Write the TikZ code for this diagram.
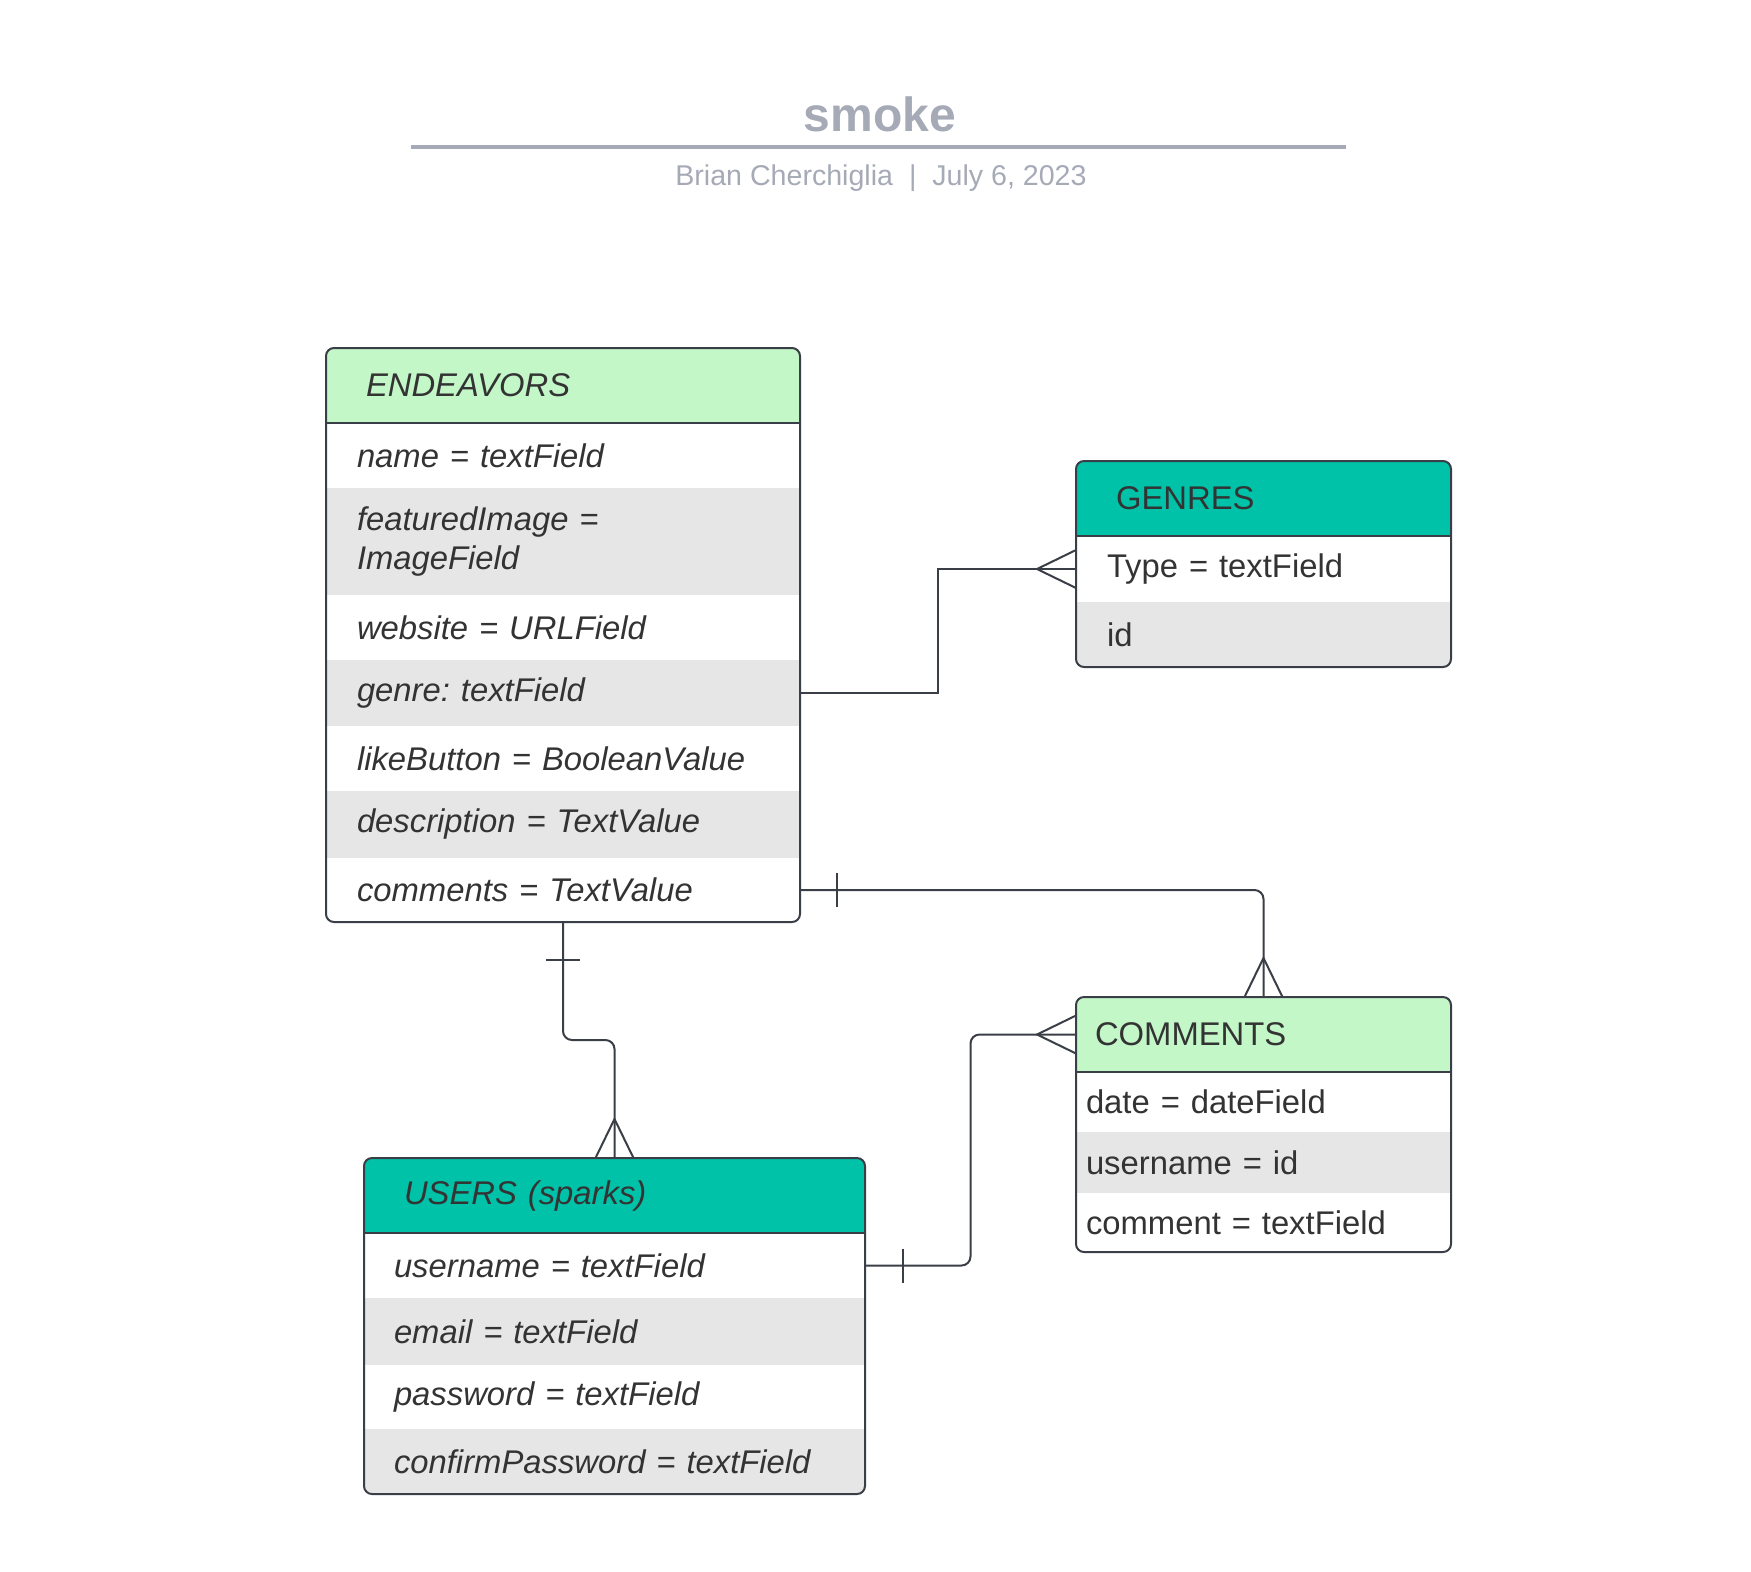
\documentclass[tikz,border=0pt]{standalone}
\usepackage{fontspec}
\setmainfont{Liberation Sans}
\usetikzlibrary{positioning, calc}
\definecolor{zgreen}{RGB}{195, 247, 200}
\definecolor{zteal}{RGB}{0, 194, 168}
\definecolor{zrow}{RGB}{230, 230, 230}
\definecolor{ztext}{RGB}{51, 51, 51}
\definecolor{zline}{RGB}{58, 62, 70}
\definecolor{ztitle}{RGB}{165, 170, 182}
\newcommand{\rowfont}{\fontsize{16.4pt}{19.6pt}\selectfont}
\frenchspacing

\begin{document}
\begin{tikzpicture}[
  x=0.5pt, y=-0.5pt,
  every node/.style={inner sep=0pt, outer sep=0pt},
  cell/.style={rectangle, font=\rowfont, text=ztext, align=left},
  hdr/.style={cell, minimum height=37.5pt, fill=#1},
  fld/.style={cell, minimum height=#1},
  fld/.default=32.5pt,
  band/.style={fill=zrow},
  frame/.style={draw=zline, line width=1pt, rounded corners=4pt},
  sep/.style={draw=zline, line width=1pt},
  conn/.style={draw=zline, line width=1pt}
]
\useasboundingbox (0,0) rectangle (1751,1571);

% Title
\node[font=\fontsize{24pt}{28pt}\selectfont\bfseries, text=ztitle] (title) at (880,114) {smoke};
\draw[ztitle, line width=1.7pt] (411,147) -- (1346,147);
\node[font=\fontsize{14.3pt}{17pt}\selectfont, text=ztitle] (byline) at (881,178)
  {Brian Cherchiglia\ \ |\ \ July 6, 2023};

% ENDEAVORS
\begin{scope}[cell/.append style={text width=206pt, inner xsep=15.5pt, font=\rowfont\itshape}]
\clip[rounded corners=4pt] (326,348) rectangle (800,922);
\node[hdr=zgreen, anchor=north west, text width=197pt, inner xsep=20pt] (endv) at (326,348) {ENDEAVORS};
\node[fld, below=0pt of endv] (endv-name) {name = textField};
\node[fld=53.5pt, band, below=0pt of endv-name] (endv-img) {featuredImage =\\ImageField};
\node[fld, below=0pt of endv-img] (endv-web) {website = URLField};
\node[fld=33pt, band, below=0pt of endv-web] (endv-gen) {genre: textField};
\node[fld, below=0pt of endv-gen] (endv-like) {likeButton = BooleanValue};
\node[fld=33.5pt, band, below=0pt of endv-like] (endv-desc) {description = TextValue};
\node[fld=32pt, below=0pt of endv-desc] (endv-com) {comments = TextValue};
\end{scope}
\draw[frame] (endv.north west) rectangle (endv-com.south east);
\draw[sep] (endv.south west) -- (endv.south east);

% GENRES
\begin{scope}[cell/.append style={text width=156.5pt, inner xsep=15.5pt}]
\clip[rounded corners=4pt] (1076,461) rectangle (1451,667);
\node[hdr=zteal, anchor=north west, text width=147.5pt, inner xsep=20pt] (gen) at (1076,461) {GENRES};
\node[fld=33pt, below=0pt of gen] (gen-type) {Type = textField};
\node[fld, band, below=0pt of gen-type] (gen-id) {id};
\end{scope}
\draw[frame] (gen.north west) rectangle (gen-id.south east);
\draw[sep] (gen.south west) -- (gen.south east);

% COMMENTS
\begin{scope}[cell/.append style={text width=177.5pt, inner xsep=5pt}]
\clip[rounded corners=4pt] (1076,997) rectangle (1451,1252);
\node[hdr=zgreen, anchor=north west, text width=168.5pt, inner xsep=9.5pt] (cmt) at (1076,997) {COMMENTS};
\node[fld=30pt, below=0pt of cmt] (cmt-date) {date = dateField};
\node[fld=30.5pt, band, below=0pt of cmt-date] (cmt-user) {username = id};
\node[fld=29.5pt, below=0pt of cmt-user] (cmt-text) {comment = textField};
\end{scope}
\draw[frame] (cmt.north west) rectangle (cmt-text.south east);
\draw[sep] (cmt.south west) -- (cmt.south east);

% USERS
\begin{scope}[cell/.append style={text width=220.5pt, inner xsep=15pt, font=\rowfont\itshape}]
\clip[rounded corners=4pt] (364,1158) rectangle (865,1494);
\node[hdr=zteal, anchor=north west, text width=210.5pt, inner xsep=20pt] (usr) at (364,1158) {USERS (sparks)};
\node[fld, below=0pt of usr] (usr-name) {username = textField};
\node[fld=33.5pt, band, below=0pt of usr-name] (usr-mail) {email = textField};
\node[fld=32pt, below=0pt of usr-mail] (usr-pass) {password = textField};
\node[fld, band, below=0pt of usr-pass] (usr-conf) {confirmPassword = textField};
\end{scope}
\draw[frame] (usr.north west) rectangle (usr-conf.south east);
\draw[sep] (usr.south west) -- (usr.south east);

% Relations
\coordinate (m1) at ($(endv-gen.east)!0.5!(gen-type.west)$);
\draw[conn] (endv-gen.east) -- (endv-gen.east -| m1) |- (gen-type.west);
\draw[conn] ($(gen-type.west)+(0,-19)$) -- ($(gen-type.west)+(-39,0)$) -- ($(gen-type.west)+(0,19)$);

\draw[conn, rounded corners=4.5pt] (endv-com.east) -| (cmt.north);
\draw[conn] ($(endv-com.east)+(37,-17)$) -- ($(endv-com.east)+(37,17)$);
\draw[conn] ($(cmt.north)+(-19,0)$) -- ($(cmt.north)+(0,-39)$) -- ($(cmt.north)+(19,0)$);

\coordinate (m3) at ($(endv-com.south)!0.5!(usr.north)$);
\draw[conn, rounded corners=4.5pt] (endv-com.south) -- (endv-com.south |- m3) -| (usr.north);
\draw[conn] ($(endv-com.south)+(-17,38)$) -- ($(endv-com.south)+(17,38)$);
\draw[conn] ($(usr.north)+(-19,0)$) -- ($(usr.north)+(0,-39)$) -- ($(usr.north)+(19,0)$);

\coordinate (m4) at ($(usr-name.east)!0.5!(cmt.west)$);
\draw[conn, rounded corners=4.5pt] (usr-name.east) -- (usr-name.east -| m4) |- (cmt.west);
\draw[conn] ($(usr-name.east)+(38,-17)$) -- ($(usr-name.east)+(38,17)$);
\draw[conn] ($(cmt.west)+(0,-19)$) -- ($(cmt.west)+(-39,0)$) -- ($(cmt.west)+(0,19)$);

\end{tikzpicture}
\end{document}
